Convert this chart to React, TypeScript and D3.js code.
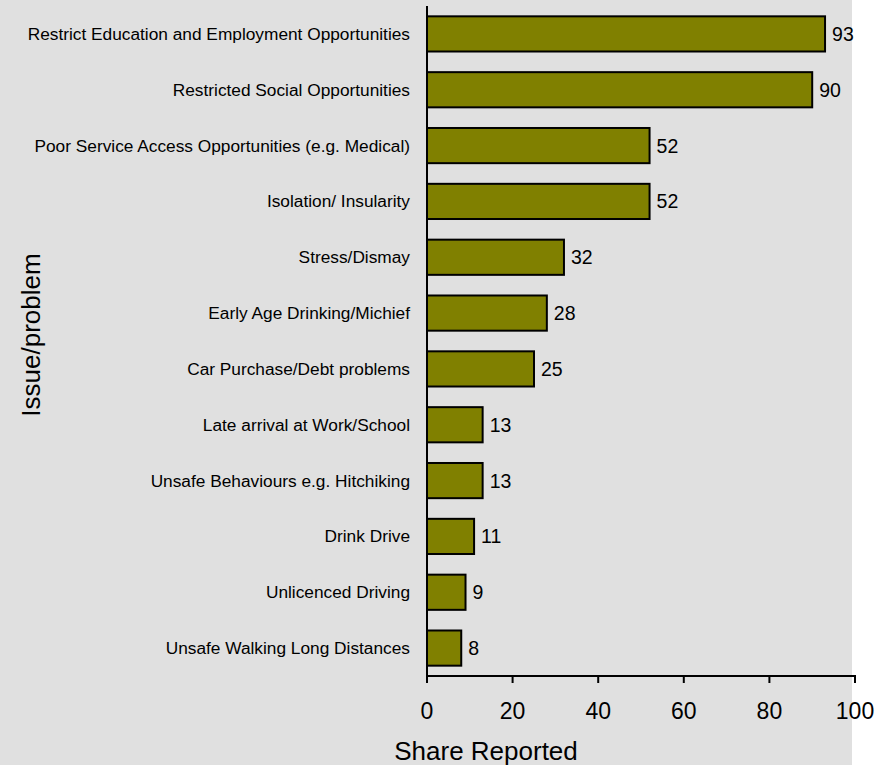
import React from "react";
import * as d3 from "d3";

const categories = [
  "Restrict Education and Employment Opportunities",
  "Restricted Social Opportunities",
  "Poor Service Access Opportunities (e.g. Medical)",
  "Isolation/ Insularity",
  "Stress/Dismay",
  "Early Age Drinking/Michief",
  "Car Purchase/Debt problems",
  "Late arrival at Work/School",
  "Unsafe Behaviours e.g. Hitchiking",
  "Drink Drive",
  "Unlicenced Driving",
  "Unsafe Walking Long Distances",
];
const values = [93, 90, 52, 52, 32, 28, 25, 13, 13, 11, 9, 8];
const xTicks = [0, 20, 40, 60, 80, 100];
const xTitle = "Share Reported";
const yTitle = "Issue/problem";

const W = 889;
const H = 765;
const FONT = "Liberation Sans, Arial, sans-serif";

export default function App() {
  const x = d3.scaleLinear().domain([0, 100]).range([427, 855]);
  const y = d3.scaleBand<string>().domain(categories).range([6, 676]).paddingInner(0.37).paddingOuter(0.185);
  const axisY = 676;
  return (
    <svg width={W} height={H} style={{ position: "absolute", left: 0, top: 0 }} fontFamily={FONT}>
      <rect x={0} y={0} width={852} height={H} fill="#e0e0e0" />
      {categories.map((c, i) => {
        const yy = y(c)!;
        const bw = y.bandwidth();
        return (
          <g key={c}>
            <rect x={x(0)} y={yy} width={x(values[i]) - x(0)} height={bw} fill="#808000" stroke="#000" strokeWidth={2} />
            <text x={x(values[i]) + 7} y={yy + bw / 2 + 7} fontSize={19.5} fill="#000">{values[i]}</text>
            <text x={410} y={yy + bw / 2 + 6} fontSize={17.3} textAnchor="end" fill="#000">{c}</text>
          </g>
        );
      })}
      <line x1={x(0)} x2={x(0)} y1={6} y2={axisY + 1} stroke="#000" strokeWidth={2} />
      <line x1={x(0) - 1} x2={x(100) + 1} y1={axisY} y2={axisY} stroke="#000" strokeWidth={2} />
      {xTicks.map((t) => (
        <g key={t}>
          <line x1={x(t)} x2={x(t)} y1={axisY} y2={axisY + 7} stroke="#000" strokeWidth={2} />
          <text x={x(t)} y={719} fontSize={23} textAnchor="middle" fill="#000">{t}</text>
        </g>
      ))}
      <text x={486} y={760} fontSize={26} textAnchor="middle" fill="#000">{xTitle}</text>
      <text transform={`translate(40,335) rotate(-90)`} fontSize={26} textAnchor="middle" fill="#000">{yTitle}</text>
    </svg>
  );
}
